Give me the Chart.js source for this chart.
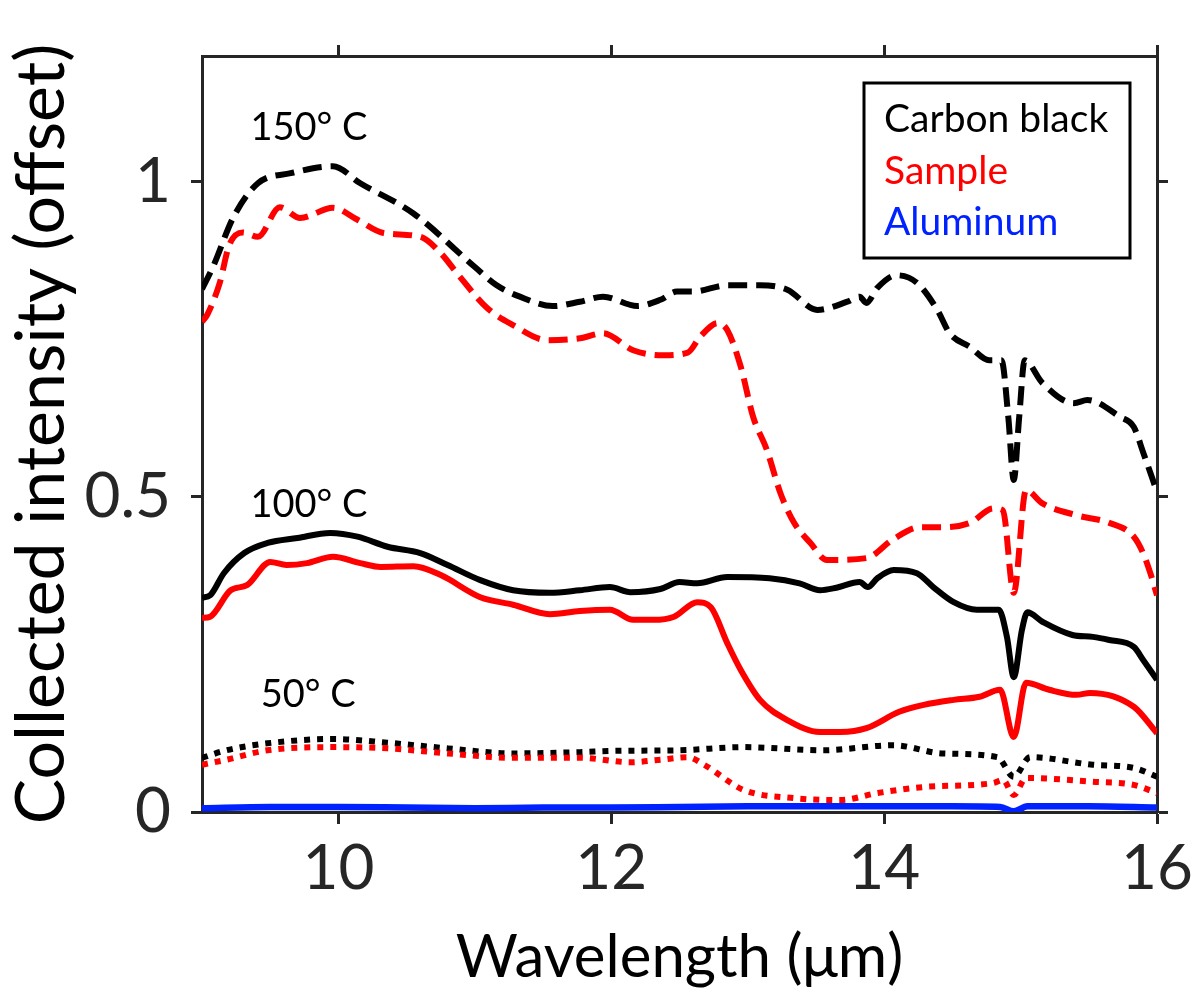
<!DOCTYPE html>
<html>
<head>
<meta charset="utf-8">
<script src="https://cdn.jsdelivr.net/npm/chart.js@4.4.1/dist/chart.umd.min.js"></script>
<style>
  html, body { margin: 0; padding: 0; background: #ffffff; }
  #wrap { width: 1192px; height: 996px; }
</style>
</head>
<body>
<div id="wrap"><canvas id="c" width="1192" height="996"></canvas></div>
<script>
// ---------- data ----------
const xTickValues = [10, 12, 14, 16];
const yTickValues = [0, 0.5, 1];
const yTickLabels = ['0', '0.5', '1'];

const seriesNames = ['Carbon black', 'Sample', 'Aluminum'];
const tempLabels = ['150° C', '100° C', '50° C'];

// 150 °C, carbon black (dashed)
const cb150X = [9.0, 9.08, 9.23, 9.41, 9.65, 9.96, 10.16, 10.55, 11.0, 11.16, 11.33, 11.57, 11.77, 11.94, 12.19, 12.36, 12.48, 12.6, 12.85, 13.09, 13.29, 13.51, 13.73, 13.82, 13.87, 13.95, 14.09, 14.24, 14.39, 14.48, 14.63, 14.77, 14.86, 14.91, 14.95, 14.99, 15.03, 15.16, 15.39, 15.49, 15.73, 15.83, 15.9, 16.0];
const cb150Y = [0.83, 0.865, 0.944, 0.998, 1.014, 1.025, 0.998, 0.95, 0.865, 0.836, 0.818, 0.803, 0.81, 0.818, 0.803, 0.813, 0.826, 0.826, 0.836, 0.836, 0.829, 0.797, 0.81, 0.818, 0.808, 0.832, 0.852, 0.84, 0.797, 0.76, 0.738, 0.717, 0.717, 0.627, 0.527, 0.627, 0.717, 0.681, 0.649, 0.654, 0.627, 0.611, 0.57, 0.508];

// 150 °C, sample (dashed)
const s150X = [9.0, 9.04, 9.13, 9.2, 9.3, 9.41, 9.57, 9.72, 9.96, 10.14, 10.33, 10.6, 10.75, 10.87, 11.09, 11.28, 11.53, 11.77, 11.94, 12.16, 12.38, 12.56, 12.65, 12.78, 12.85, 12.95, 13.04, 13.14, 13.24, 13.34, 13.46, 13.58, 13.87, 14.06, 14.26, 14.43, 14.63, 14.8, 14.87, 14.95, 15.04, 15.16, 15.41, 15.65, 15.83, 15.9, 15.95, 16.0];
const s150Y = [0.778, 0.79, 0.84, 0.9, 0.92, 0.913, 0.96, 0.943, 0.959, 0.94, 0.919, 0.913, 0.887, 0.855, 0.8, 0.773, 0.749, 0.752, 0.76, 0.733, 0.725, 0.729, 0.754, 0.776, 0.765, 0.706, 0.627, 0.575, 0.506, 0.459, 0.427, 0.4, 0.403, 0.432, 0.452, 0.452, 0.459, 0.482, 0.479, 0.348, 0.511, 0.49, 0.471, 0.459, 0.437, 0.41, 0.38, 0.344];

// 100 °C, carbon black (solid)
const cb100X = [9.0, 9.06, 9.16, 9.31, 9.48, 9.7, 9.94, 10.14, 10.36, 10.6, 10.8, 11.04, 11.28, 11.55, 11.77, 11.99, 12.14, 12.36, 12.5, 12.63, 12.85, 13.16, 13.38, 13.53, 13.65, 13.82, 13.88, 13.95, 14.07, 14.24, 14.36, 14.51, 14.68, 14.84, 14.9, 14.95, 15.01, 15.05, 15.16, 15.38, 15.53, 15.65, 15.83, 15.9, 16.0];
const cb100Y = [0.34, 0.344, 0.379, 0.411, 0.427, 0.435, 0.443, 0.437, 0.421, 0.411, 0.392, 0.368, 0.352, 0.348, 0.352, 0.357, 0.349, 0.354, 0.365, 0.363, 0.373, 0.371, 0.363, 0.352, 0.356, 0.365, 0.357, 0.371, 0.384, 0.379, 0.357, 0.333, 0.321, 0.321, 0.278, 0.214, 0.289, 0.317, 0.302, 0.281, 0.278, 0.273, 0.262, 0.241, 0.21];

// 100 °C, sample (solid)
const s100X = [9.0, 9.06, 9.21, 9.33, 9.5, 9.62, 9.77, 9.96, 10.16, 10.31, 10.55, 10.75, 11.04, 11.28, 11.55, 11.77, 11.99, 12.16, 12.31, 12.46, 12.63, 12.73, 12.85, 12.95, 13.09, 13.29, 13.53, 13.68, 13.87, 14.11, 14.29, 14.51, 14.7, 14.85, 14.95, 15.04, 15.21, 15.41, 15.51, 15.83, 16.0];
const s100Y = [0.308, 0.31, 0.352, 0.36, 0.397, 0.392, 0.395, 0.405, 0.395, 0.389, 0.39, 0.376, 0.341, 0.329, 0.314, 0.319, 0.321, 0.305, 0.305, 0.31, 0.333, 0.325, 0.268, 0.225, 0.178, 0.146, 0.127, 0.127, 0.133, 0.159, 0.17, 0.178, 0.183, 0.194, 0.119, 0.205, 0.194, 0.186, 0.189, 0.167, 0.125];

// 50 °C, carbon black (dotted)
const cb50X = [9.0, 9.18, 9.48, 9.96, 10.36, 10.8, 11.28, 11.77, 12.01, 12.5, 12.97, 13.55, 14.07, 14.43, 14.83, 14.95, 15.07, 15.53, 15.83, 16.0];
const cb50Y = [0.086, 0.098, 0.109, 0.116, 0.11, 0.101, 0.093, 0.095, 0.097, 0.098, 0.103, 0.098, 0.106, 0.093, 0.087, 0.056, 0.087, 0.075, 0.07, 0.056];

// 50 °C, sample (dotted)
const s50X = [9.0, 9.18, 9.48, 9.96, 10.36, 10.8, 11.28, 11.77, 12.14, 12.36, 12.56, 12.68, 12.97, 13.34, 13.68, 13.95, 14.31, 14.8, 14.87, 14.95, 15.04, 15.53, 15.83, 16.0];
const s50Y = [0.075, 0.083, 0.098, 0.103, 0.101, 0.093, 0.086, 0.086, 0.079, 0.083, 0.087, 0.075, 0.035, 0.022, 0.019, 0.03, 0.04, 0.046, 0.051, 0.027, 0.054, 0.048, 0.043, 0.03];

// Aluminum (solid blue)
const alX = [9.0, 9.5, 10.0, 10.5, 11.0, 11.5, 12.0, 12.5, 13.0, 13.5, 14.0, 14.5, 14.85, 14.95, 15.05, 15.5, 16.0];
const alY = [0.006, 0.008, 0.008, 0.007, 0.006, 0.007, 0.007, 0.008, 0.009, 0.009, 0.009, 0.009, 0.008, 0.001, 0.009, 0.009, 0.007];

// annotation anchor points (data coordinates) for the temperature labels
const tempLabelX = [9.355, 9.355, 9.43];
const tempLabelY = [1.067, 0.468, 0.167];

// ---------- helpers ----------
const pts = (xs, ys) => xs.map((x, i) => ({ x: x, y: ys[i] }));
const FONT = 'Lato, "Open Sans", sans-serif';
const AXIS_COLOR = '#262626';
const BLACK = '#000000', RED = '#ff0000', BLUE = '#0022ff';

function ds(label, xs, ys, color, dash, width) {
  return {
    label: label,
    data: pts(xs, ys),
    borderColor: color,
    backgroundColor: color,
    borderWidth: width,
    borderDash: dash,
    borderCapStyle: 'butt',
    borderJoinStyle: 'round',
    pointRadius: 0,
    fill: false,
    cubicInterpolationMode: 'monotone'
  };
}

const datasets = [
  ds('Aluminum', alX, alY, BLUE, [], 6.5),
  ds('Sample 50', s50X, s50Y, RED, [6, 7], 6),
  ds('Carbon black 50', cb50X, cb50Y, BLACK, [6, 7], 6),
  ds('Sample 100', s100X, s100Y, RED, [], 6),
  ds('Carbon black 100', cb100X, cb100Y, BLACK, [], 6),
  ds('Sample 150', s150X, s150Y, RED, [19, 9], 6),
  ds('Carbon black 150', cb150X, cb150Y, BLACK, [19, 9], 6)
];

// plugin drawing the temperature labels and the text legend box
const overlayPlugin = {
  id: 'overlay',
  afterDatasetsDraw(chart) {
    const { ctx, scales } = chart;
    ctx.save();
    ctx.fillStyle = '#000';
    ctx.font = '38px ' + FONT;
    ctx.textAlign = 'left';
    ctx.textBaseline = 'alphabetic';
    tempLabels.forEach((t, i) => {
      ctx.fillText(t, scales.x.getPixelForValue(tempLabelX[i]), scales.y.getPixelForValue(tempLabelY[i]));
    });
    // legend box
    const bx = 864, by = 83, bw = 266, bh = 175;
    ctx.fillStyle = '#fff';
    ctx.fillRect(bx, by, bw, bh);
    ctx.lineWidth = 3;
    ctx.strokeStyle = '#000';
    ctx.strokeRect(bx, by, bw, bh);
    const colors = [BLACK, RED, BLUE];
    ctx.font = '39px ' + FONT;
    seriesNames.forEach((n, i) => {
      ctx.fillStyle = colors[i];
      ctx.fillText(n, 884, 132 + i * 51.5);
    });
    ctx.restore();
  }
};

const tickGrid = (len) => ({
  drawOnChartArea: false,
  drawTicks: true,
  tickLength: len,
  tickWidth: 3,
  tickColor: AXIS_COLOR
});
const axisBorder = { display: true, width: 3, color: AXIS_COLOR };
const noPad = (s) => { s.paddingLeft = 0; s.paddingRight = 0; s.paddingTop = 0; s.paddingBottom = 0; };

new Chart(document.getElementById('c'), {
  type: 'line',
  data: { datasets: datasets },
  plugins: [overlayPlugin],
  options: {
    responsive: false,
    animation: false,
    events: [],
    layout: { padding: { top: 45, right: 24, left: 0, bottom: 0 } },
    plugins: { legend: { display: false }, tooltip: { enabled: false } },
    scales: {
      x: {
        type: 'linear', position: 'bottom', min: 9, max: 16,
        afterBuildTicks: (s) => { s.ticks = xTickValues.map(v => ({ value: v })); },
        afterFit: (s) => { s.height = 184; noPad(s); },
        grid: tickGrid(12),
        border: axisBorder,
        ticks: { font: { family: FONT, size: 62 }, color: AXIS_COLOR, padding: 8, maxRotation: 0, autoSkip: false },
        title: { display: true, text: 'Wavelength (μm)', font: { family: FONT, size: 60 }, color: '#000', padding: { top: 0, bottom: 2 } }
      },
      x2: {
        type: 'linear', position: 'top', min: 9, max: 16,
        afterBuildTicks: (s) => { s.ticks = xTickValues.map(v => ({ value: v })); },
        afterFit: (s) => { s.height = 11; noPad(s); },
        grid: tickGrid(11),
        border: axisBorder,
        ticks: { display: false }
      },
      y: {
        type: 'linear', position: 'left', min: 0, max: 1.2,
        afterBuildTicks: (s) => { s.ticks = yTickValues.map(v => ({ value: v })); },
        afterFit: (s) => { s.width = 202; noPad(s); },
        grid: tickGrid(11),
        border: axisBorder,
        ticks: {
          font: { family: FONT, size: 62 }, color: AXIS_COLOR, padding: 20, autoSkip: false,
          callback: (v) => { const i = yTickValues.indexOf(v); return i >= 0 ? yTickLabels[i] : ''; }
        },
        title: { display: true, text: 'Collected intensity (offset)', font: { family: FONT, size: 68 }, color: '#000', padding: { top: 1, bottom: 0 } }
      },
      y2: {
        type: 'linear', position: 'right', min: 0, max: 1.2,
        afterBuildTicks: (s) => { s.ticks = yTickValues.map(v => ({ value: v })); },
        afterFit: (s) => { s.width = 11; noPad(s); },
        grid: tickGrid(11),
        border: axisBorder,
        ticks: { display: false }
      }
    }
  }
});
</script>
</body>
</html>
